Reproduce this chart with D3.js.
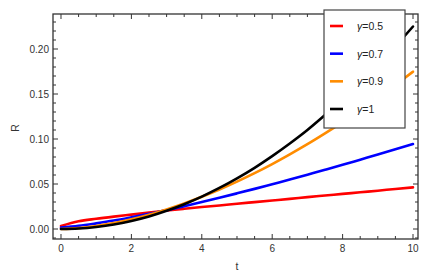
<!DOCTYPE html>
<html>
<head>
<meta charset="utf-8">
<script src="https://cdn.jsdelivr.net/npm/d3@7"></script>
<style>
  body { margin: 0; background: #fff; }
  text { font-family: "Liberation Sans", Arial, sans-serif; }
</style>
</head>
<body>
<div id="chart"></div>
<script>
var width = 432,
  height = 275;

// data, t = 0 .. 10 step 0.5
var tValues = [0, 0.5, 1, 1.5, 2, 2.5, 3, 3.5, 4, 4.5, 5, 5.5, 6, 6.5, 7, 7.5, 8, 8.5, 9, 9.5, 10];
var rGamma05 = [0.0033, 0.0086, 0.0114, 0.0138, 0.0160, 0.0182, 0.0205, 0.0225, 0.0244, 0.0262, 0.0281,
  0.0299, 0.0317, 0.0335, 0.0354, 0.0372, 0.0390, 0.0408, 0.0426, 0.0445, 0.0463];
var rGamma07 = [0.0015, 0.0035, 0.0063, 0.0094, 0.0130, 0.0168, 0.0208, 0.0253, 0.0299, 0.0347, 0.0396,
  0.0446, 0.0498, 0.0550, 0.0604, 0.0658, 0.0713, 0.0770, 0.0827, 0.0885, 0.0944];
var rGamma09 = [0.0000, 0.0010, 0.0033, 0.0066, 0.0108, 0.0159, 0.0218, 0.0284, 0.0358, 0.0439, 0.0527,
  0.0621, 0.0722, 0.0830, 0.0943, 0.1063, 0.1188, 0.1319, 0.1457, 0.1601, 0.1748];
var rGamma1 = [0.0000, 0.0006, 0.0023, 0.0050, 0.0090, 0.0140, 0.0203, 0.0276, 0.0360, 0.0456, 0.0563,
  0.0680, 0.0810, 0.0950, 0.1100, 0.1266, 0.1440, 0.1625, 0.1820, 0.2030, 0.2250];

var seriesNames = ["γ=0.5", "γ=0.7", "γ=0.9", "γ=1"];
var seriesColors = ["#ff0000", "#0000ff", "#ff8c00", "#000000"];

var xTicks = [0, 2, 4, 6, 8, 10];
var xTickLabels = ["0", "2", "4", "6", "8", "10"];
var yTicks = [0, 0.05, 0.10, 0.15, 0.20];
var yTickLabels = ["0.00", "0.05", "0.10", "0.15", "0.20"];

var series = [rGamma05, rGamma07, rGamma09, rGamma1].map(function (vals, i) {
  return {
    name: seriesNames[i],
    color: seriesColors[i],
    values: vals.map(function (r, j) { return { t: tValues[j], r: r }; })
  };
});

var frame = { left: 53, right: 418, top: 14, bottom: 239 };

var x = d3.scaleLinear().domain([-0.227, 10.142]).range([frame.left, frame.right]);
var y = d3.scaleLinear().domain([-0.0111, 0.2389]).range([frame.bottom, frame.top]);

var svg = d3.select("#chart")
  .append("svg")
  .attr("width", width)
  .attr("height", height);

var frameColor = "#333";
var labelColor = "#333";

// minor ticks
var xMinor = d3.range(0, 10.01, 0.5).filter(function (v) { return v % 2 !== 0; });
var yMinor = d3.range(-0.01, 0.235, 0.01).filter(function (v) {
  return Math.abs(Math.round(v * 20) - v * 20) > 1e-6;
});

var ticks = svg.append("g").attr("stroke", frameColor).attr("stroke-width", 1);

function tickX(v, len) {
  ticks.append("line").attr("x1", x(v)).attr("x2", x(v))
    .attr("y1", frame.bottom).attr("y2", frame.bottom - len);
  ticks.append("line").attr("x1", x(v)).attr("x2", x(v))
    .attr("y1", frame.top).attr("y2", frame.top + len);
}
function tickY(v, len) {
  ticks.append("line").attr("y1", y(v)).attr("y2", y(v))
    .attr("x1", frame.left).attr("x2", frame.left + len);
  ticks.append("line").attr("y1", y(v)).attr("y2", y(v))
    .attr("x1", frame.right).attr("x2", frame.right - len);
}
xTicks.forEach(function (v) { tickX(v, 5); });
xMinor.forEach(function (v) { tickX(v, 3); });
yTicks.forEach(function (v) { tickY(v, 5); });
yMinor.forEach(function (v) { tickY(v, 3); });

// curves
var line = d3.line()
  .x(function (d) { return x(d.t); })
  .y(function (d) { return y(d.r); })
  .curve(d3.curveMonotoneX);

svg.append("g")
  .selectAll("path")
  .data(series)
  .enter().append("path")
  .attr("d", function (d) { return line(d.values); })
  .attr("fill", "none")
  .attr("stroke", function (d) { return d.color; })
  .attr("stroke-width", 2.6)
  .attr("stroke-linecap", "round");

// frame
svg.append("rect")
  .attr("x", frame.left).attr("y", frame.top)
  .attr("width", frame.right - frame.left)
  .attr("height", frame.bottom - frame.top)
  .attr("fill", "none")
  .attr("stroke", frameColor)
  .attr("stroke-width", 1.3);

// tick labels
svg.append("g")
  .selectAll("text")
  .data(xTicks)
  .enter().append("text")
  .attr("x", function (d) { return x(d); })
  .attr("y", 252)
  .attr("text-anchor", "middle")
  .attr("font-size", 10)
  .attr("fill", labelColor)
  .text(function (d, i) { return xTickLabels[i]; });

svg.append("g")
  .selectAll("text")
  .data(yTicks)
  .enter().append("text")
  .attr("x", 49)
  .attr("y", function (d) { return y(d) + 3.5; })
  .attr("text-anchor", "end")
  .attr("font-size", 10)
  .attr("fill", labelColor)
  .text(function (d, i) { return yTickLabels[i]; });

// axis titles
svg.append("text")
  .attr("x", 237).attr("y", 270)
  .attr("text-anchor", "middle")
  .attr("font-size", 10.5)
  .attr("fill", labelColor)
  .text("t");

svg.append("text")
  .attr("transform", "translate(19,128) rotate(-90)")
  .attr("text-anchor", "middle")
  .attr("font-size", 10.5)
  .attr("fill", labelColor)
  .text("R");

// legend
var legend = svg.append("g");
legend.append("rect")
  .attr("x", 324).attr("y", 10)
  .attr("width", 81).attr("height", 118)
  .attr("fill", "#fff")
  .attr("stroke", "#444")
  .attr("stroke-width", 1.2);

var legendY = d3.scalePoint().domain(seriesNames).range([26, 109]);

var items = legend.selectAll("g.item")
  .data(series)
  .enter().append("g")
  .attr("class", "item")
  .attr("transform", function (d) { return "translate(0," + legendY(d.name) + ")"; });

items.append("line")
  .attr("x1", 330).attr("x2", 343)
  .attr("y1", 0).attr("y2", 0)
  .attr("stroke", function (d) { return d.color; })
  .attr("stroke-width", 2.6);

items.append("text")
  .attr("x", 357).attr("y", 4)
  .attr("font-size", 10.5)
  .attr("fill", "#222")
  .each(function (d) {
    var t = d3.select(this);
    t.append("tspan").attr("font-style", "italic").text(d.name.charAt(0));
    t.append("tspan").text(d.name.slice(1));
  });
</script>
</body>
</html>
